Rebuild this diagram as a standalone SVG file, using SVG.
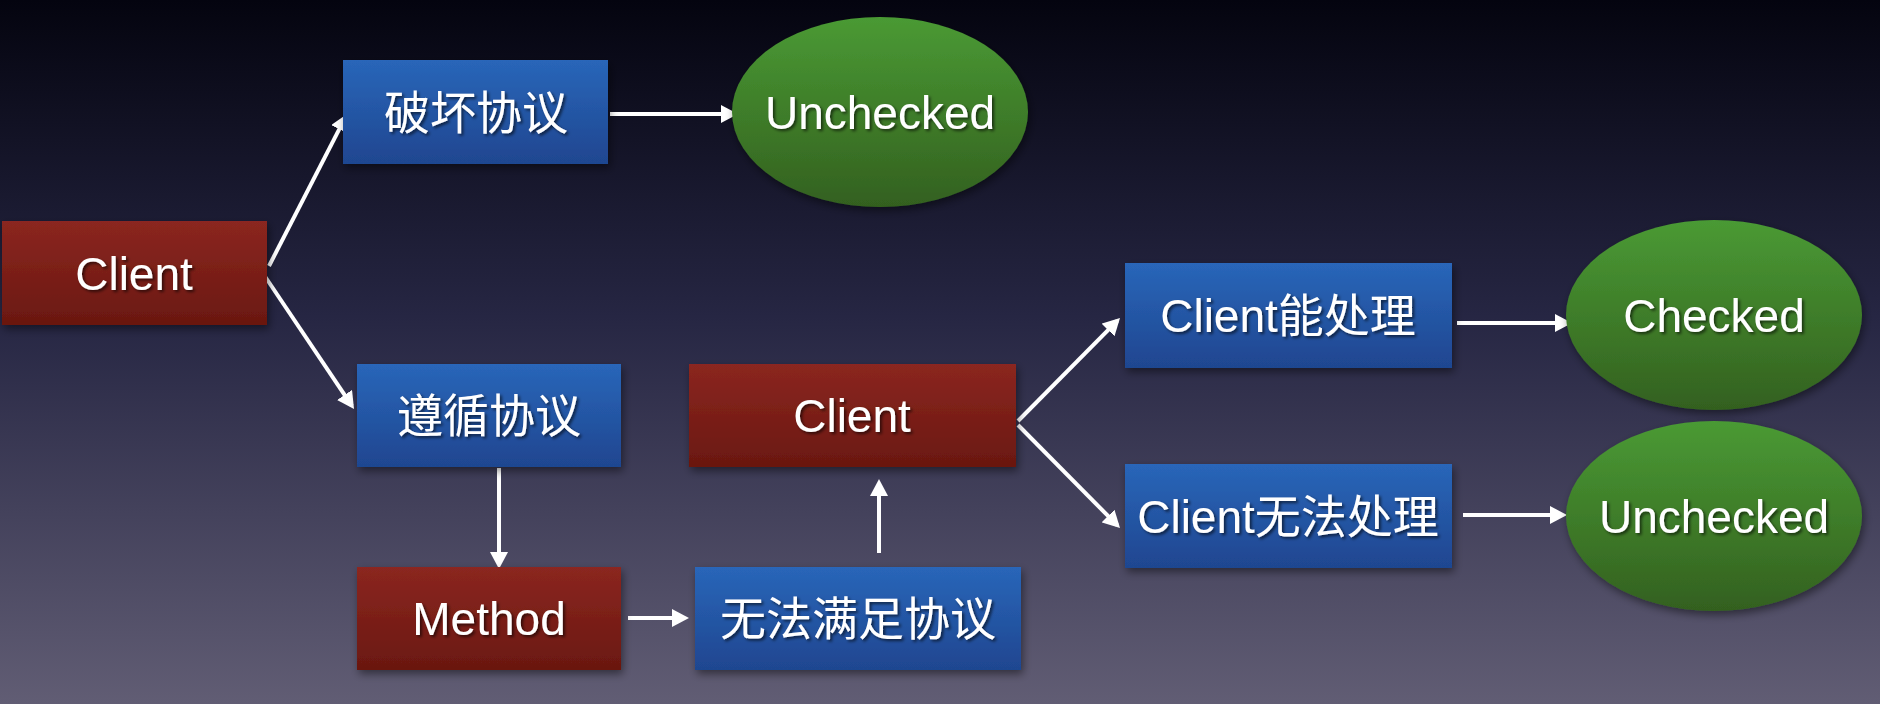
<svg xmlns="http://www.w3.org/2000/svg" width="1880" height="704" viewBox="0 0 1880 704">
  <defs>
    <linearGradient id="bg" x1="0" y1="0" x2="0" y2="1">
      <stop offset="0" stop-color="#04040f"/>
      <stop offset="0.45" stop-color="#262643"/>
      <stop offset="1" stop-color="#615d74"/>
    </linearGradient>
    <linearGradient id="gBlue" x1="0" y1="0" x2="0" y2="1">
      <stop offset="0" stop-color="#2966b9"/>
      <stop offset="1" stop-color="#1f4690"/>
    </linearGradient>
    <linearGradient id="gRed" x1="0" y1="0" x2="0" y2="1">
      <stop offset="0" stop-color="#8b2620"/>
      <stop offset="1" stop-color="#6a1810"/>
    </linearGradient>
    <linearGradient id="gGreen" x1="0" y1="0" x2="0" y2="1">
      <stop offset="0" stop-color="#4a9a34"/>
      <stop offset="1" stop-color="#33601f"/>
    </linearGradient>
    <filter id="shadow" x="-10%" y="-10%" width="125%" height="130%">
      <feDropShadow dx="2" dy="4" stdDeviation="4" flood-color="#000" flood-opacity="0.45"/>
    </filter>
    <filter id="tshadow" x="-10%" y="-20%" width="125%" height="150%">
      <feDropShadow dx="2" dy="2" stdDeviation="1.5" flood-color="#000" flood-opacity="0.6"/>
    </filter>
    <marker id="arrow" viewBox="0 0 17 18" refX="13" refY="9" markerUnits="userSpaceOnUse" markerWidth="17" markerHeight="18" orient="auto">
      <path d="M0,0 L17,9 L0,18 Z" fill="#ffffff"/>
    </marker>
    <style>
      .blue { fill: url(#gBlue); filter: url(#shadow); }
      .red { fill: url(#gRed); filter: url(#shadow); }
      .green { fill: url(#gGreen); filter: url(#shadow); }
      .label { fill: #ffffff; font-family: "Liberation Sans", "Noto Sans CJK SC", sans-serif; font-size: 46px; text-anchor: middle; filter: url(#tshadow); }
      .conn { stroke: #ffffff; stroke-width: 4; fill: none; marker-end: url(#arrow); }
    </style>
  </defs>

  <rect x="0" y="0" width="1880" height="704" fill="url(#bg)"/>

  <g id="connectors">
    <line class="conn" x1="269" y1="266" x2="345.2" y2="117.6"/>
    <line class="conn" x1="262" y1="272" x2="351.8" y2="405.7"/>
    <line class="conn" x1="610" y1="114" x2="734" y2="114"/>
    <line class="conn" x1="499" y1="468" x2="499" y2="565"/>
    <line class="conn" x1="628" y1="618" x2="685" y2="618"/>
    <line class="conn" x1="879" y1="553" x2="879" y2="483"/>
    <line class="conn" x1="1018" y1="421" x2="1117.2" y2="320.8"/>
    <line class="conn" x1="1018" y1="425" x2="1117.2" y2="525.2"/>
    <line class="conn" x1="1457" y1="323" x2="1568" y2="323"/>
    <line class="conn" x1="1463" y1="515" x2="1563" y2="515"/>
  </g>

  <g id="client-left">
    <rect class="red" x="2" y="221" width="265" height="104"/>
    <text class="label" x="134" y="290">Client</text>
  </g>
  <g id="break-protocol">
    <rect class="blue" x="343" y="60" width="265" height="104"/>
    <text class="label" x="476" y="129">破坏协议</text>
  </g>
  <g id="unchecked-top">
    <ellipse class="green" cx="880" cy="112" rx="148" ry="95"/>
    <text class="label" x="880" y="129">Unchecked</text>
  </g>
  <g id="follow-protocol">
    <rect class="blue" x="357" y="364" width="264" height="103"/>
    <text class="label" x="489" y="432">遵循协议</text>
  </g>
  <g id="method">
    <rect class="red" x="357" y="567" width="264" height="103"/>
    <text class="label" x="489" y="635">Method</text>
  </g>
  <g id="cannot-satisfy">
    <rect class="blue" x="695" y="567" width="326" height="103"/>
    <text class="label" x="858" y="635">无法满足协议</text>
  </g>
  <g id="client-mid">
    <rect class="red" x="689" y="364" width="327" height="103"/>
    <text class="label" x="852" y="432">Client</text>
  </g>
  <g id="client-can">
    <rect class="blue" x="1125" y="263" width="327" height="105"/>
    <text class="label" x="1288" y="332">Client能处理</text>
  </g>
  <g id="client-cannot">
    <rect class="blue" x="1125" y="464" width="327" height="104"/>
    <text class="label" x="1288" y="533">Client无法处理</text>
  </g>
  <g id="checked">
    <ellipse class="green" cx="1714" cy="315" rx="148" ry="95"/>
    <text class="label" x="1714" y="332">Checked</text>
  </g>
  <g id="unchecked-bottom">
    <ellipse class="green" cx="1714" cy="516" rx="148" ry="95"/>
    <text class="label" x="1714" y="533">Unchecked</text>
  </g>
</svg>
